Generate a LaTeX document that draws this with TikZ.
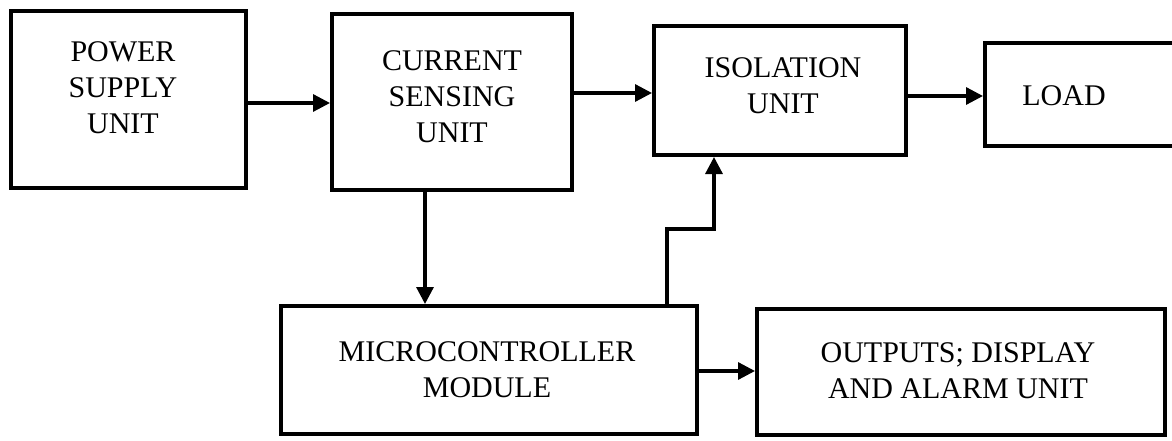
\documentclass[tikz,border=0pt]{standalone}
\usepackage{fontspec}
\setmainfont{Liberation Serif}
\usetikzlibrary{arrows.meta}
\begin{document}
\begin{tikzpicture}[x=1pt,y=-1pt,
  blk/.style={draw=black, line width=4pt, rectangle, inner sep=0pt},
  lbl/.style={align=center, font=\fontsize{30}{36}\selectfont, inner sep=0pt},
  arr/.style={line width=3.2pt, -{Triangle[length=17pt,width=17pt]}},
  ln/.style={line width=3pt}]
\useasboundingbox (0,0) rectangle (1172,441);
\fill[white] (0,0) rectangle (1172,441);
\node[blk, minimum width=235pt, minimum height=177pt] (b1) at (128.5,99.5) {};
\node[blk, minimum width=240pt, minimum height=176pt] (b2) at (452,102) {};
\node[blk, minimum width=252pt, minimum height=129pt] (b3) at (780,90.5) {};
\node[blk, minimum width=200pt, minimum height=103pt] (b4) at (1085,94.5) {};
\node[blk, minimum width=416pt, minimum height=128pt] (b5) at (489,370) {};
\node[blk, minimum width=408pt, minimum height=126pt] (b6) at (961,372) {};
\node[lbl] (t1) at (123,88) {POWER\\SUPPLY\\UNIT};
\node[lbl] (t2) at (452,97) {CURRENT\\SENSING\\UNIT};
\node[lbl] (t3) at (783,86) {ISOLATION\\UNIT};
\node[lbl] (t4) at (1064,96) {LOAD};
\node[lbl] (t5) at (487,369.5) {MICROCONTROLLER\\MODULE};
\node[lbl] (t6) at (958,371) {OUTPUTS; DISPLAY\\AND ALARM UNIT};
\coordinate (k1) at (667,229);
\coordinate (k2) at (714,229);
\draw[arr] (b1.east |- 0,103) -- (b2.west |- 0,103);
\draw[arr] (b2.east |- 0,93) -- (b3.west |- 0,93);
\draw[arr] (b3.east |- 0,96) -- (b4.west |- 0,96);
\draw[arr] (b2.south -| 425,0) -- (b5.north -| 425,0);
\draw[arr] (b5.north -| k1) -- (k1) -- (k2) -- (b3.south -| k2);
\draw[arr] (b5.east |- 0,371) -- (b6.west |- 0,371);
\end{tikzpicture}
\end{document}
